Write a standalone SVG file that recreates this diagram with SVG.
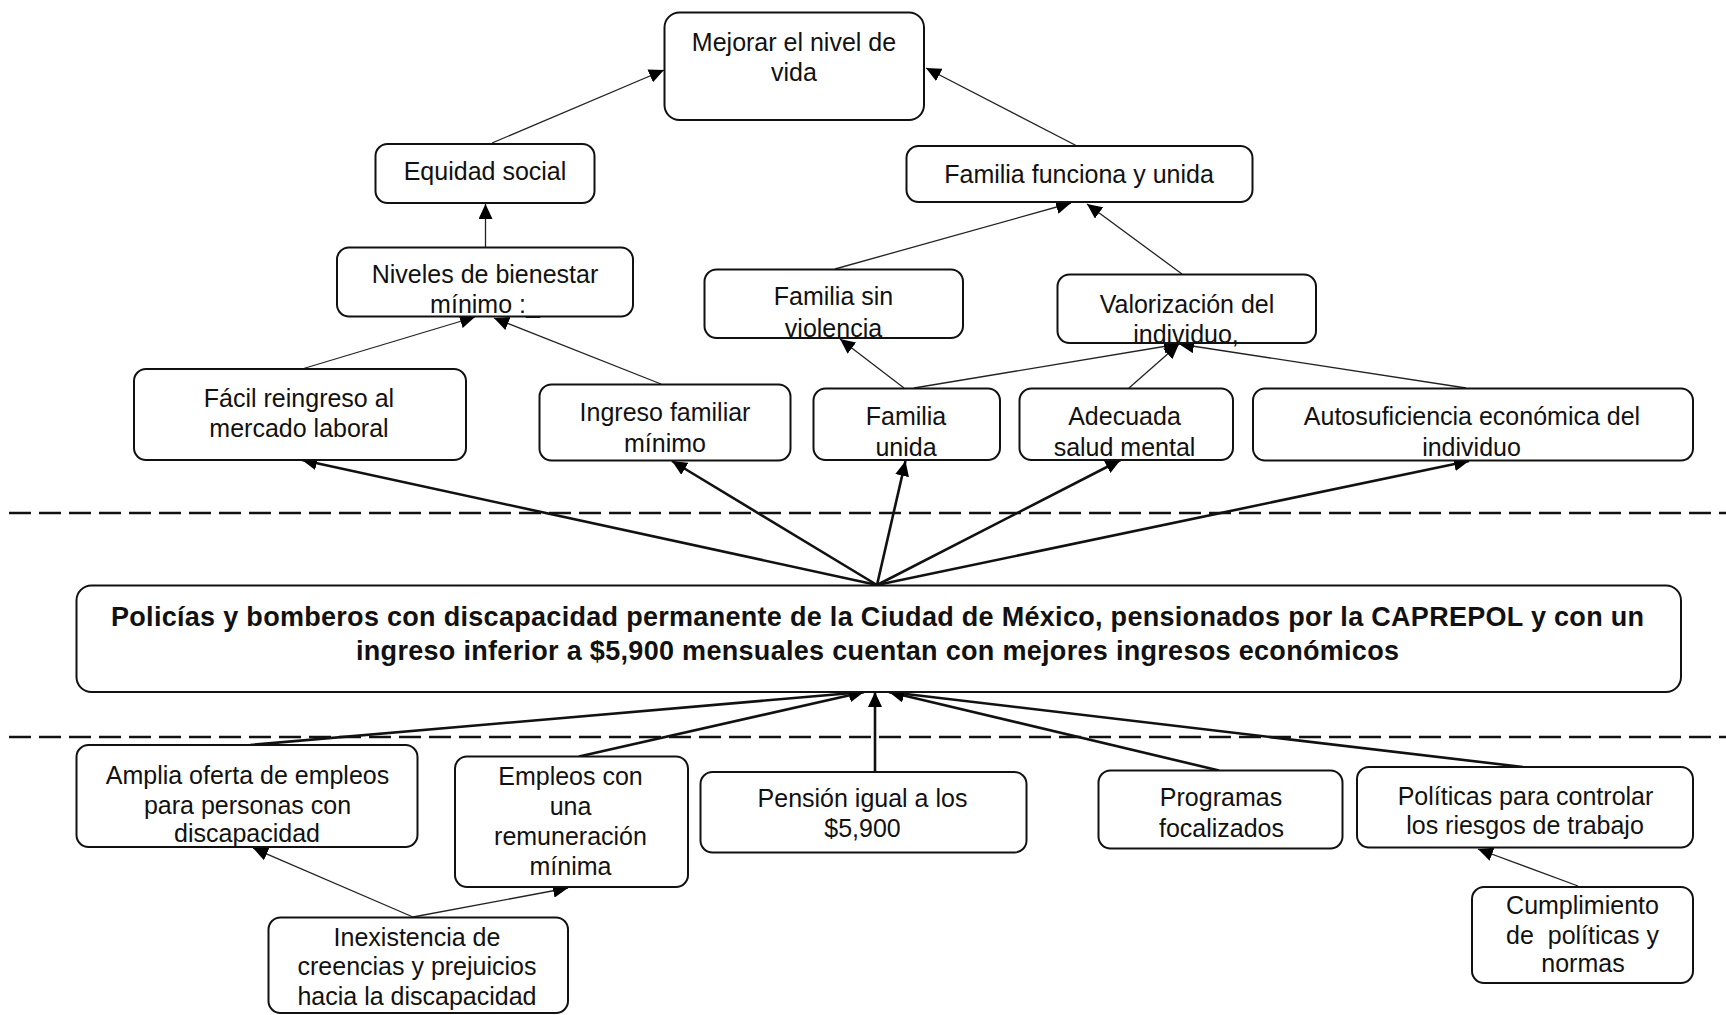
<svg xmlns="http://www.w3.org/2000/svg" width="1726" height="1015" viewBox="0 0 1726 1015">
<defs>
<style>
.box{fill:#fff;stroke:#111;stroke-width:2}
.t{font-family:"Liberation Sans",Arial,sans-serif;font-size:25px;fill:#111;text-anchor:middle}
.b{font-family:"Liberation Sans",Arial,sans-serif;font-size:27px;font-weight:bold;fill:#111;text-anchor:middle}
.thin{fill:none;stroke:#222;stroke-width:1.3;marker-end:url(#ah)}
.thick{fill:none;stroke:#111;stroke-width:2.6;marker-end:url(#ah)}
.dash{fill:none;stroke:#111;stroke-width:2.5;stroke-dasharray:22 8}
</style>
<marker id="ah" markerUnits="userSpaceOnUse" markerWidth="16" markerHeight="14" refX="15" refY="7" orient="auto">
<path d="M0,0 L15,7 L0,14 z" fill="#000"/>
</marker>
</defs>
<rect width="1726" height="1015" fill="#fff"/>

<g id="separators">
<line class="dash" x1="9" y1="513" x2="1726" y2="513"/>
<line class="dash" x1="9" y1="737" x2="1726" y2="737"/>
</g>

<g id="connectors">
<path class="thin" d="M492,143 L664,70"/>
<path class="thin" d="M1077,146 L926,68"/>
<path class="thin" d="M485.5,247.5 L485.5,204"/>
<path class="thin" d="M302,369 L475,317"/>
<path class="thin" d="M661,384 L494,318"/>
<path class="thin" d="M835,269 L1071,203"/>
<path class="thin" d="M1182,274 L1087,204"/>
<path class="thin" d="M904,388 L840,339"/>
<path class="thin" d="M914,388 L1179,344"/>
<path class="thin" d="M1129,388 L1179,344"/>
<path class="thin" d="M1466,388 L1179,344"/>
<path class="thick" d="M877,585 L302,460"/>
<path class="thick" d="M877,585 L672,461"/>
<path class="thick" d="M877,585 L905.5,461"/>
<path class="thick" d="M877,585 L1120.5,460"/>
<path class="thick" d="M877,585 L1469,461"/>
<path class="thick" d="M250,745 L864,692"/>
<path class="thick" d="M579,756.5 L864,692"/>
<path class="thick" d="M875,772 L875,692"/>
<path class="thick" d="M1219,770.5 L889,692"/>
<path class="thick" d="M1523,767 L889,692"/>
<path class="thin" d="M413,917 L253,848"/>
<path class="thin" d="M413,917 L568,888"/>
<path class="thin" d="M1578,886 L1478,849"/>
</g>

<g id="mejorar">
<rect class="box" x="664.5" y="12.5" width="259.5" height="107.5" rx="15"/>
<text class="t" x="794" y="51">Mejorar el nivel de</text>
<text class="t" x="794" y="81">vida</text>
</g>
<g id="equidad">
<rect class="box" x="375.5" y="144" width="219" height="59" rx="12"/>
<text class="t" x="485" y="180">Equidad social</text>
</g>
<g id="familia_funciona">
<rect class="box" x="906.5" y="146" width="346" height="56" rx="12"/>
<text class="t" x="1079" y="183">Familia funciona y unida</text>
</g>
<g id="niveles">
<rect class="box" x="337" y="247.5" width="296" height="69" rx="12"/>
<text class="t" x="485" y="283">Niveles de bienestar</text>
<text class="t" x="485" y="313">mínimo :_</text>
</g>
<g id="familia_sin_violencia">
<rect class="box" x="704.5" y="269.5" width="258.5" height="68.5" rx="12"/>
<text class="t" x="833.5" y="305">Familia sin</text>
<text class="t" x="833.5" y="337">violencia</text>
</g>
<g id="valorizacion">
<rect class="box" x="1057.5" y="274.5" width="258.5" height="68.5" rx="12"/>
<text class="t" x="1187" y="313">Valorización del</text>
<text class="t" x="1186" y="343">individuo,</text>
</g>
<g id="facil">
<rect class="box" x="134" y="369" width="332" height="91" rx="12"/>
<text class="t" x="299" y="407">Fácil reingreso al</text>
<text class="t" x="299" y="437">mercado laboral</text>
</g>
<g id="ingreso">
<rect class="box" x="539.5" y="384.5" width="251" height="76" rx="12"/>
<text class="t" x="665" y="421">Ingreso familiar</text>
<text class="t" x="665" y="452">mínimo</text>
</g>
<g id="familia_unida">
<rect class="box" x="813.5" y="388.5" width="186.5" height="71.5" rx="12"/>
<text class="t" x="906" y="425">Familia</text>
<text class="t" x="906" y="456">unida</text>
</g>
<g id="adecuada">
<rect class="box" x="1019.5" y="388.5" width="213.5" height="71.5" rx="12"/>
<text class="t" x="1124.5" y="425">Adecuada</text>
<text class="t" x="1124.5" y="456">salud mental</text>
</g>
<g id="autosuficiencia">
<rect class="box" x="1253" y="388.5" width="440" height="72" rx="12"/>
<text class="t" x="1472" y="425">Autosuficiencia económica del</text>
<text class="t" x="1471.5" y="456">individuo</text>
</g>
<g id="central">
<rect class="box" x="76.5" y="585.5" width="1604.5" height="106.5" rx="15"/>
<text class="b" x="877.5" y="626" textLength="1533">Policías y bomberos con discapacidad permanente de la Ciudad de México, pensionados por la CAPREPOL y con un</text>
<text class="b" x="877.5" y="660" textLength="1043">ingreso inferior a $5,900 mensuales cuentan con mejores ingresos económicos</text>
</g>
<g id="amplia">
<rect class="box" x="76.5" y="745" width="341" height="102" rx="12"/>
<text class="t" x="247.5" y="784">Amplia oferta de empleos</text>
<text class="t" x="247.5" y="814">para personas con</text>
<text class="t" x="247" y="842">discapacidad</text>
</g>
<g id="empleos">
<rect class="box" x="455" y="756.5" width="233" height="130.5" rx="12"/>
<text class="t" x="570.5" y="785">Empleos con</text>
<text class="t" x="570.5" y="815">una</text>
<text class="t" x="570.5" y="845">remuneración</text>
<text class="t" x="570.5" y="875">mínima</text>
</g>
<g id="pension">
<rect class="box" x="700.5" y="772" width="326" height="80.5" rx="12"/>
<text class="t" x="862.5" y="807">Pensión igual a los</text>
<text class="t" x="862.5" y="837">$5,900</text>
</g>
<g id="programas">
<rect class="box" x="1098.5" y="770.5" width="244" height="78" rx="12"/>
<text class="t" x="1221" y="806">Programas</text>
<text class="t" x="1221.5" y="837">focalizados</text>
</g>
<g id="politicas">
<rect class="box" x="1357" y="767" width="336" height="80.5" rx="12"/>
<text class="t" x="1525.5" y="805">Políticas para controlar</text>
<text class="t" x="1525" y="834">los riesgos de trabajo</text>
</g>
<g id="cumplimiento">
<rect class="box" x="1472" y="887" width="221" height="96" rx="12"/>
<text class="t" x="1582.5" y="914">Cumplimiento</text>
<text class="t" x="1582.5" y="944" xml:space="preserve">de  políticas y</text>
<text class="t" x="1583" y="972">normas</text>
</g>
<g id="inexistencia">
<rect class="box" x="268.5" y="917.5" width="299.5" height="95.5" rx="12"/>
<text class="t" x="417" y="946">Inexistencia de</text>
<text class="t" x="417" y="975">creencias y prejuicios</text>
<text class="t" x="417" y="1005">hacia la discapacidad</text>
</g>
</svg>
